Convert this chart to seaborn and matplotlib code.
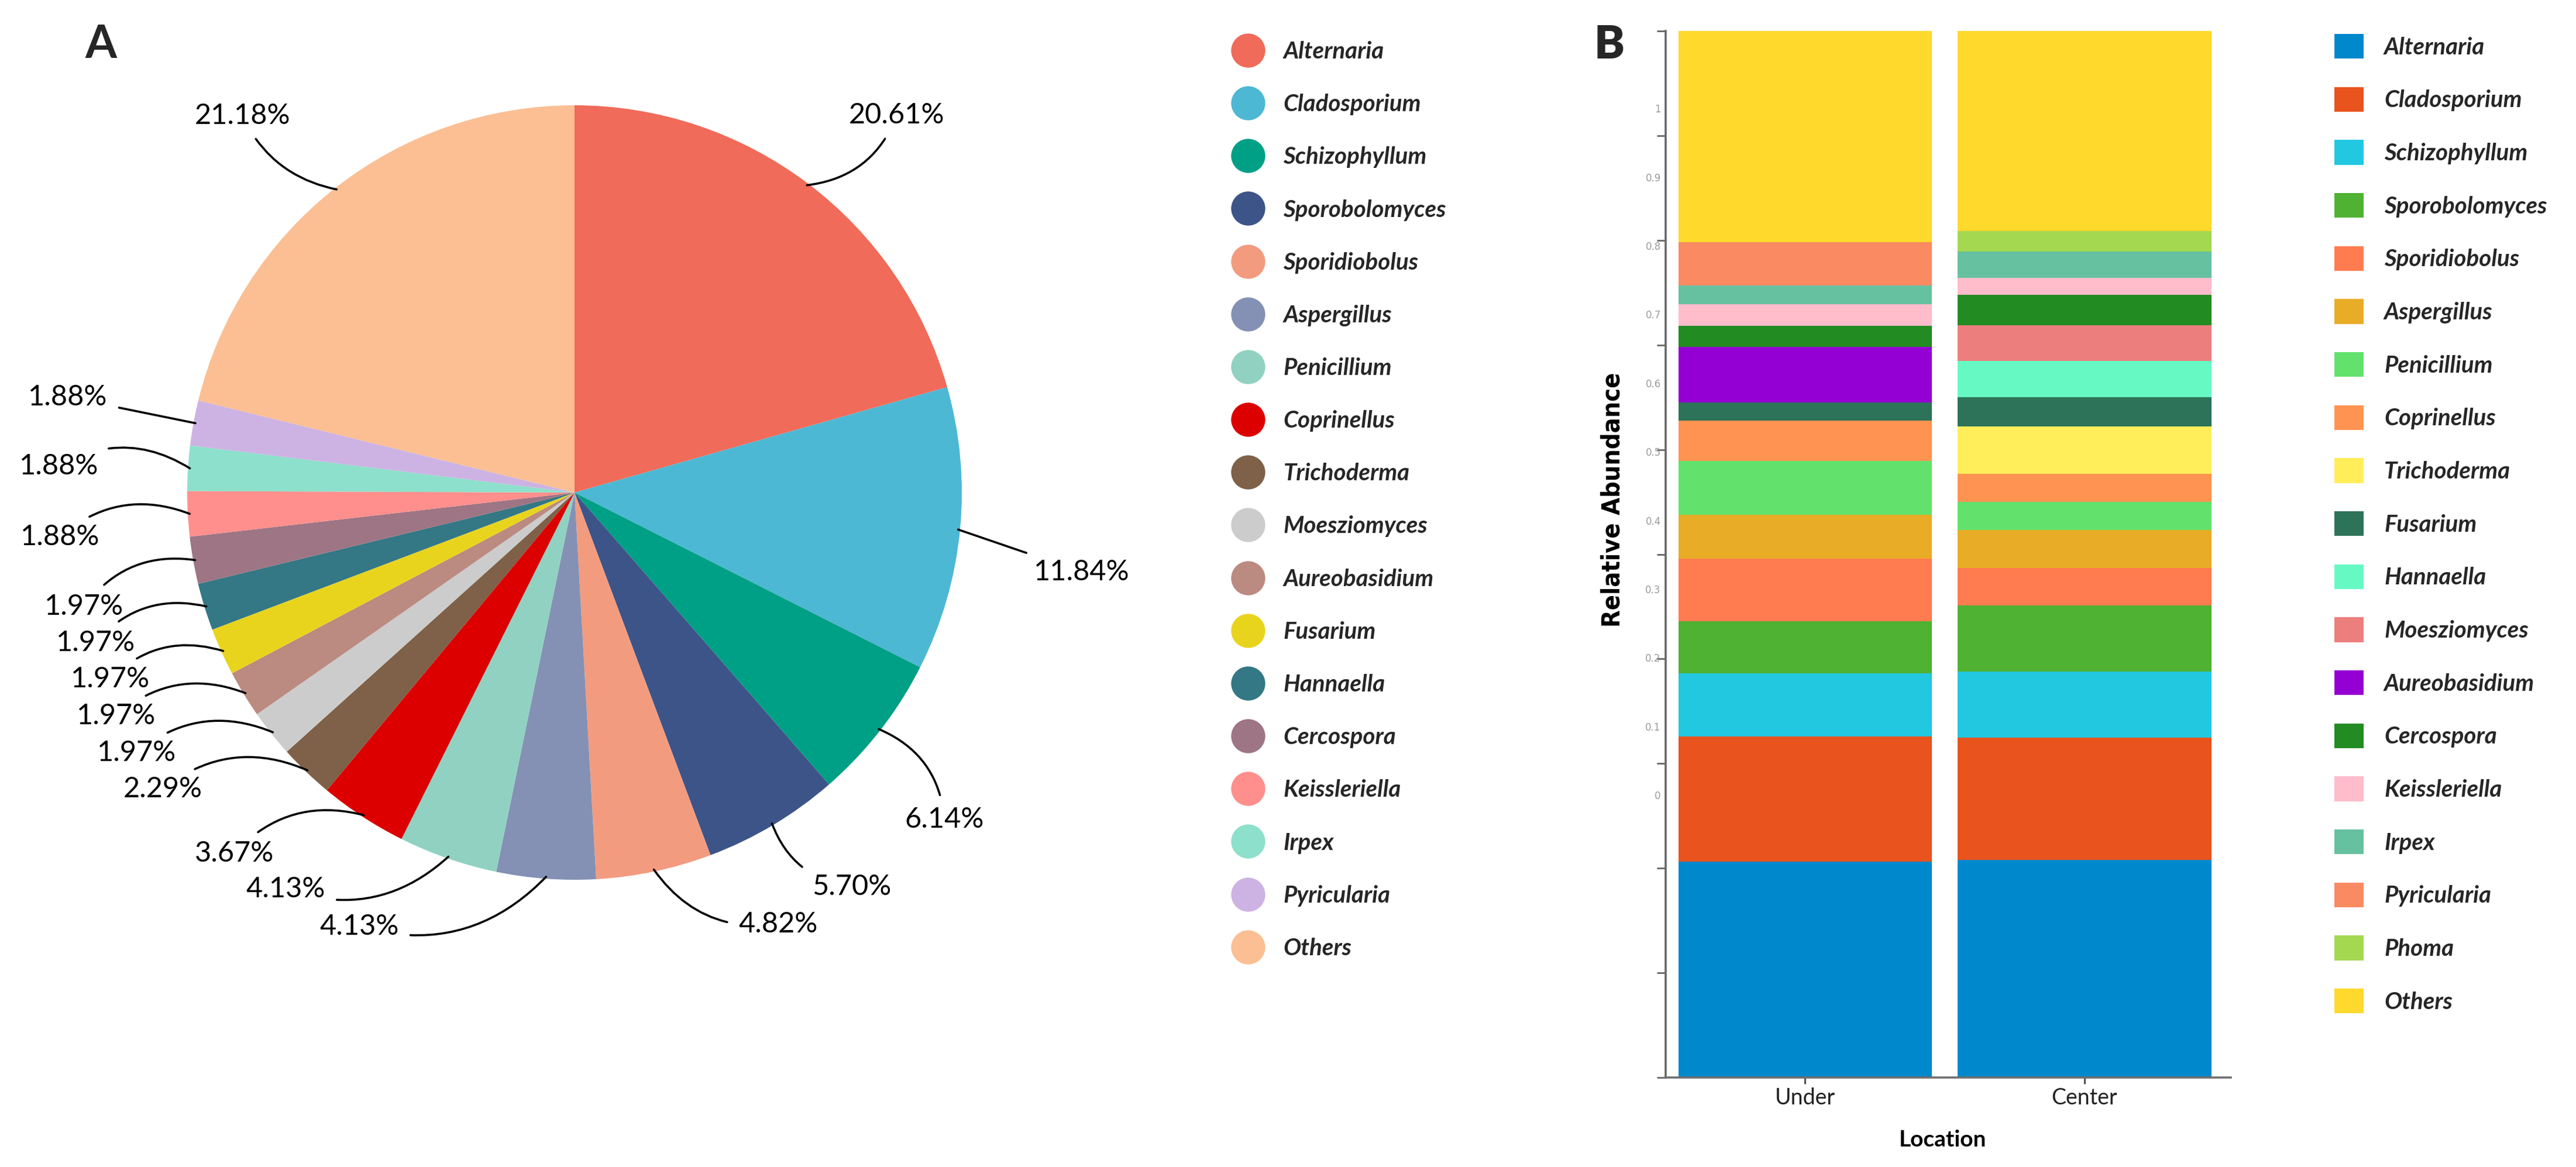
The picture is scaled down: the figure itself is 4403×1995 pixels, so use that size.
import numpy as np
import pandas as pd
import matplotlib
matplotlib.use("Agg")
import matplotlib.pyplot as plt
import seaborn as sns
from matplotlib.lines import Line2D
from matplotlib.patches import Patch
from matplotlib.font_manager import FontProperties

# ---------------- data ----------------
pie_genera = ["Alternaria", "Cladosporium", "Schizophyllum", "Sporobolomyces",
              "Sporidiobolus", "Aspergillus", "Penicillium", "Coprinellus",
              "Trichoderma", "Moesziomyces", "Aureobasidium", "Fusarium",
              "Hannaella", "Cercospora", "Keissleriella", "Irpex",
              "Pyricularia", "Others"]
pie_percent = [20.61, 11.84, 6.14, 5.70, 4.82, 4.13, 4.13, 3.67, 2.29,
               1.97, 1.97, 1.97, 1.97, 1.97, 1.88, 1.88, 1.88, 21.18]
pie_colors = ["#F06B59", "#4DB8D4", "#00A087", "#3C5488", "#F39B7F",
              "#8491B4", "#91D1C2", "#DC0000", "#7E6148", "#CCCCCC",
              "#BB8A80", "#E9D41D", "#347785", "#9E7584", "#FF8F8C",
              "#8DE0CB", "#CDB3E3", "#FBBF93"]

bar_locations = ["Under", "Center"]
bar_genera = ["Alternaria", "Cladosporium", "Schizophyllum", "Sporobolomyces",
              "Sporidiobolus", "Aspergillus", "Penicillium", "Coprinellus",
              "Trichoderma", "Fusarium", "Hannaella", "Moesziomyces",
              "Aureobasidium", "Cercospora", "Keissleriella", "Irpex",
              "Pyricularia", "Phoma", "Others"]
under_abund = [0.206, 0.120, 0.060, 0.050, 0.060, 0.042, 0.051, 0.039, 0.000,
               0.017, 0.000, 0.000, 0.053, 0.020, 0.021, 0.018, 0.041, 0.000,
               0.202]
center_abund = [0.208, 0.117, 0.063, 0.063, 0.036, 0.036, 0.027, 0.027, 0.045,
                0.028, 0.035, 0.034, 0.000, 0.029, 0.016, 0.025, 0.000, 0.020,
                0.191]
bar_colors = ["#0088CC", "#E8531E", "#22C7E0", "#4FB232", "#FF7C50",
              "#E8AC26", "#62E26C", "#FF9351", "#FFEE5A", "#2C735A",
              "#67F9C4", "#EC7E7E", "#9400D3", "#228B22", "#FFBCCB",
              "#66C1A0", "#FA8A62", "#A4D851", "#FFD92C"]

ytick_values = [0.0, 0.1, 0.2, 0.3, 0.4, 0.5, 0.6, 0.7, 0.8, 0.9, 1.0]
ytick_texts = ["0", "0.1", "0.2", "0.3", "0.4", "0.5", "0.6", "0.7", "0.8", "0.9", "1"]

# ---------------- layout (label placement / styling only) ----------------
W, H, DPI = 4403, 1995, 200
CX, CY, R = 982, 842, 662          # pie centre and radius in pixels
pie_label_xy = [(0.832, 0.974), (1.310, -0.205), (0.955, -0.844), (0.716, -1.018),
                (0.526, -1.115), (-0.556, -1.121), (-0.746, -1.024), (-0.879, -0.932),
                (-1.063, -0.766), (-1.131, -0.672), (-1.184, -0.577), (-1.199, -0.482),
                (-1.237, -0.388), (-1.266, -0.295), (-1.329, -0.115), (-1.332, 0.068),
                (-1.308, 0.246), (-0.858, 0.973)]
pie_label_rad = [-0.3, 0.0, 0.3, -0.3, -0.3, 0.3, 0.3, -0.3, -0.3, -0.3, -0.3, -0.3,
                 -0.3, -0.3, -0.3, -0.3, 0.0, 0.25]

sns.set_theme(style="white")
plt.rcParams["font.family"] = ["Lato", "DejaVu Sans"]

fig = plt.figure(figsize=(W / DPI, H / DPI), dpi=DPI)

# ================= Panel A : pie =================
xl, xr, yb, yt = -1.45, 1.45, -1.70, 1.27
axA = fig.add_axes([(CX + xl * R) / W, 1 - (CY - yb * R) / H,
                    (xr - xl) * R / W, (yt - yb) * R / H])
wedges, _ = axA.pie(pie_percent, colors=pie_colors, startangle=90,
                    counterclock=False, radius=1.0,
                    wedgeprops=dict(linewidth=0))
axA.set_xlim(xl, xr)
axA.set_ylim(yb, yt)
axA.axis("off")

for w, p, (tx, ty), rad in zip(wedges, pie_percent, pie_label_xy, pie_label_rad):
    ang = np.deg2rad((w.theta1 + w.theta2) / 2.0)
    px, py = np.cos(ang) * 0.995, np.sin(ang) * 0.995
    axA.annotate(f"{p:.2f}%", xy=(px, py), xytext=(tx, ty),
                 ha="center", va="center", fontsize=17.5, color="black",
                 arrowprops=dict(arrowstyle="-", color="black", lw=1.3,
                                 shrinkA=5, shrinkB=0,
                                 connectionstyle=f"arc3,rad={rad}"))

fig.text(172 / W, 1 - 77 / H, "A", ha="center", va="center",
         fontsize=28, fontweight="bold")

leg_font = FontProperties(family=["Lato", "DejaVu Sans"], style="italic",
                          weight="bold", size=14.5)
handlesA = [Line2D([], [], marker="o", linestyle="", markersize=21,
                   markerfacecolor=c, markeredgewidth=0) for c in pie_colors]
fig.legend(handlesA, pie_genera, loc="upper left",
           bbox_to_anchor=(2113 / W, 1 - 70 / H), frameon=False,
           borderpad=0, borderaxespad=0, prop=leg_font, labelspacing=1.32,
           handlelength=1.0, handletextpad=1.0)

# ================= Panel B : stacked bars =================
rows = []
for loc, vals in zip(bar_locations, [under_abund, center_abund]):
    cum = np.cumsum(vals)
    for g, v, c in zip(bar_genera, vals, cum):
        rows.append(dict(Location=loc, Genus=g, Abundance=v, Top=c))
df = pd.DataFrame(rows)

axB = fig.add_axes([2847 / W, 1 - 1842 / H, 966 / W, 1789 / H])
for g, col in reversed(list(zip(bar_genera, bar_colors))):
    sub = df[df["Genus"] == g]
    sns.barplot(data=sub, x="Location", y="Top", order=bar_locations,
                color=col, saturation=1, width=0.906, errorbar=None,
                linewidth=0, ax=axB)

axB.set_xlim(-0.498, 1.523)
axB.set_ylim(0, 1)
for s in ["top", "right"]:
    axB.spines[s].set_visible(False)
axB.spines["left"].set_color("#666666")
axB.spines["left"].set_linewidth(1.3)
axB.spines["bottom"].set_color("#6e6e6e")
axB.spines["bottom"].set_linewidth(1.3)

axB.set_yticks(ytick_values)
axB.set_yticklabels([""] * len(ytick_values))
# tick labels sit where the reference prints them (offset from the tick marks)
axB.set_yticks([0.270 + 0.656 * v for v in ytick_values], minor=True)
axB.set_yticklabels(ytick_texts, minor=True)
axB.tick_params(axis="y", which="major", left=True, length=5.4, width=1.0,
                color="#666666", direction="out")
axB.tick_params(axis="y", which="minor", left=True, length=0, labelsize=6,
                labelcolor="#9a9a9a", pad=3)
for t in axB.get_yticklabels(minor=True):
    t.set_family(["DejaVu Sans"])
axB.tick_params(axis="x", bottom=True, length=4, width=1.0, color="#444444",
                labelsize=13.5, labelcolor="#222222", pad=2)

axB.set_xlabel("Location", fontsize=14, fontweight="bold", color="black")
axB.xaxis.set_label_coords(0.49, -0.05)
axB.set_ylabel("Relative Abundance", fontsize=15.5, fontweight="bold",
               color="black", family=["Liberation Sans Narrow", "DejaVu Sans"],
               fontstretch="condensed")
axB.yaxis.set_label_coords(-0.072, 0.552)

fig.text(2751 / W, 1 - 77 / H, "B", ha="center", va="center",
         fontsize=28, fontweight="heavy")

handlesB = [Patch(facecolor=c, edgecolor="none") for c in bar_colors]
fig.legend(handlesB, bar_genera, loc="upper left",
           bbox_to_anchor=(3990 / W, 1 - 58 / H), frameon=False,
           borderpad=0, borderaxespad=0, prop=leg_font, labelspacing=1.2,
           handlelength=1.24, handleheight=1.24, handletextpad=0.87)

fig.savefig("out.png", dpi=DPI)
